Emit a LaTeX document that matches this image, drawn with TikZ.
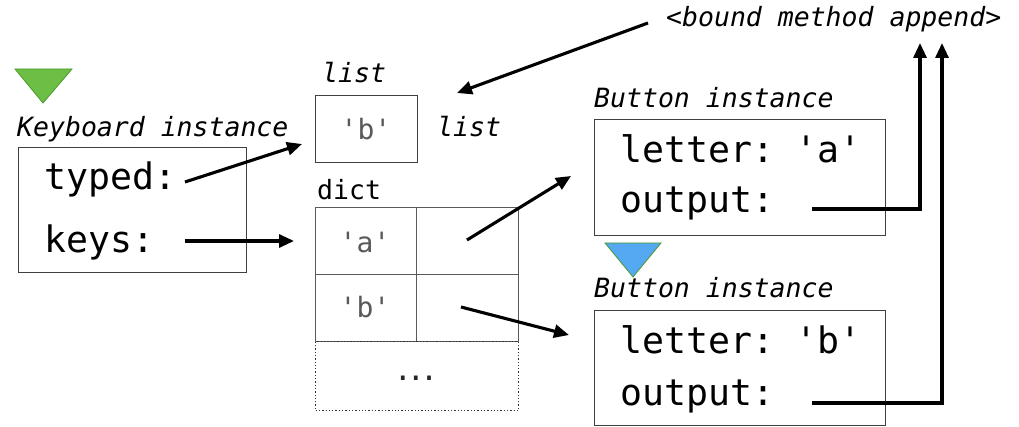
\documentclass[tikz,border=0pt]{standalone}
\usepackage{fontspec}
\setmonofont{DejaVu Sans Mono}
\usetikzlibrary{arrows.meta}
\definecolor{trigreen}{HTML}{6DBE45}
\definecolor{triedge}{HTML}{4A9A2C}
\definecolor{triblue}{HTML}{55A8F2}
\begin{document}
\begin{tikzpicture}[x=1pt,y=-1pt,
  box/.style={draw=black!75,line width=1.3pt,inner sep=0pt,anchor=north west},
  mono/.style={font=\fontsize{36.5}{40}\selectfont\ttfamily,inner sep=0pt,anchor=base west},
  lbl/.style={font=\fontsize{26.5}{30}\selectfont\ttfamily\itshape,inner sep=0pt,anchor=base west},
  plain/.style={font=\fontsize{26.5}{30}\selectfont\ttfamily,inner sep=0pt,anchor=base west},
  val/.style={font=\fontsize{28}{32}\selectfont\ttfamily,text=black!65,inner sep=0pt,anchor=base},
  arr/.style={line width=3.1pt,-{Triangle[length=15pt,width=13pt]}}]
\useasboundingbox (0,0) rectangle (1019,427);

% triangles
\filldraw[fill=trigreen,draw=triedge,line width=0.8pt] (15,69) -- (72,69) -- (43,103) -- cycle;
\filldraw[fill=triblue,draw=triedge,line width=0.8pt] (605,243) -- (661,243) -- (633,277) -- cycle;

% Keyboard instance
\node[lbl] (kblbl) at (17,137) {Keyboard instance};
\node[box,minimum width=228pt,minimum height=125pt] (kb) at (18,147) {};
\node[mono] (typed) at (44,190) {typed:};
\node[mono] (keys) at (44,253) {keys:};

% list
\node[lbl] (listlbl) at (322,83) {list};
\node[box,minimum width=102pt,minimum height=67pt] (lst) at (315,95) {};
\node[val] (lstb) at (366,140) {'b'};
\node[lbl] (listlbl2) at (437,137) {list};

% dict
\node[plain] (dictlbl) at (317,200) {dict};
\node[box,draw=black!65,minimum width=101pt,minimum height=67pt] (ka) at (315,207) {};
\node[box,draw=black!65,minimum width=102pt,minimum height=67pt] (va) at (416,207) {};
\node[box,draw=black!65,minimum width=101pt,minimum height=67pt] (kb2) at (315,274) {};
\node[box,draw=black!65,minimum width=102pt,minimum height=67pt] (vb) at (416,274) {};
\node[box,draw=black!80,dotted,line width=1.2pt,minimum width=203pt,minimum height=69pt] (more) at (315,341) {};
\node[val] (da) at (365,253) {'a'};
\node[val] (db) at (365,318) {'b'};
\node[val,text=black!85,font=\fontsize{30}{32}\selectfont\ttfamily] (dots) at (416,380) {.\kern-5pt.\kern-5pt.};

% bound method
\node[lbl] (bm) at (666,27) {<bound method append>};

% Button A
\node[lbl] (balbl) at (594,108) {Button instance};
\node[box,minimum width=291pt,minimum height=116pt] (ba) at (594,119) {};
\node[mono] (la) at (620,163) {letter: 'a'};
\node[mono] (oa) at (620,213) {output:};

% Button B
\node[lbl] (bblbl) at (594,298) {Button instance};
\node[box,minimum width=291pt,minimum height=115pt] (bb) at (594,310) {};
\node[mono] (lb) at (620,353) {letter: 'b'};
\node[mono] (ob) at (620,405) {output:};

% connector endpoints
\coordinate (typedS) at (185,182);
\coordinate (typedE) at (302,144);
\coordinate (keysS) at (185,241);
\coordinate (keysE) at (294,241);
\coordinate (bmS) at (648,23);
\coordinate (bmE) at (457,93);
\coordinate (vaS) at (467,240);
\coordinate (vaE) at (571,176);
\coordinate (vbS) at (461,307);
\coordinate (vbE) at (569,335);
\coordinate (oaS) at (812,209);
\coordinate (oaE) at (920,43);
\coordinate (obS) at (812,403);
\coordinate (obE) at (942,43);

\draw[arr] (typedS) -- (typedE);
\draw[arr] (keysS) -- (keysE);
\draw[arr] (bmS) -- (bmE);
\draw[arr] (vaS) -- (vaE);
\draw[arr] (vbS) -- (vbE);
\draw[arr] (oaS) -| (oaE);
\draw[arr] (obS) -| (obE);
\end{tikzpicture}
\end{document}
